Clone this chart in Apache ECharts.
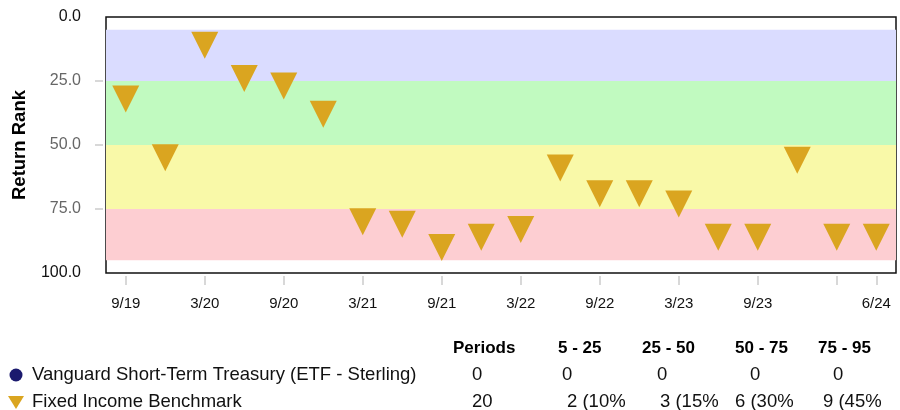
<!DOCTYPE html>
<html>
<head>
<meta charset="utf-8">
<script src="https://cdn.jsdelivr.net/npm/echarts@6/dist/echarts.min.js"></script>
<style>
  html, body { margin: 0; padding: 0; background: #fff; }
  #chart { width: 900px; height: 410px; }
</style>
</head>
<body>
<div id="chart"></div>
<script>
// quarter ends, 9/19 .. 6/24
const periods = ['9/19', '12/19', '3/20', '6/20', '9/20', '12/20', '3/21', '6/21', '9/21', '12/21',
  '3/22', '6/22', '9/22', '12/22', '3/23', '6/23', '9/23', '12/23', '3/24', '6/24'];
const benchmarkRank = [32, 55, 11, 24, 27, 38, 80, 81, 90, 86, 83, 59, 69, 69, 73, 86, 86, 56, 86, 86];
const fundRank = []; // no ranks for the fund

const bandEdges = [5, 25, 50, 75, 95];
const bandColors = ['#dadcff', '#c1fac0', '#f9f9a8', '#fdced2'];

const fundName = 'Vanguard Short-Term Treasury (ETF - Sterling)';
const benchmarkName = 'Fixed Income Benchmark';
const tableHeaders = ['Periods', '5 - 25', '25 - 50', '50 - 75', '75 - 95'];
const fundRow = ['0', '0', '0', '0', '0'];
const benchmarkRow = ['20', '2 (10%', '3 (15%', '6 (30%', '9 (45%'];

const GOLD = '#daa520';
const NAVY = '#1b1a6e';
const FONT = '"Liberation Sans", Arial, sans-serif';

const chart = echarts.init(document.getElementById('chart'), null, { renderer: 'canvas' });

const bands = [];
for (let i = 0; i < bandColors.length; i++) {
  bands.push([
    { yAxis: bandEdges[i], itemStyle: { color: bandColors[i], opacity: 1 } },
    { yAxis: bandEdges[i + 1] },
  ]);
}

// table below the chart
const headerX = [453, 558, 642, 735, 818];
const fundX = [472, 562, 657, 750, 833];
const benchX = [472, 567, 660, 735, 823];
const BODY = '18.5px ' + FONT;
const graphics = [];
tableHeaders.forEach((t, i) => graphics.push({
  type: 'text', x: headerX[i], y: 348,
  style: { text: t, fill: '#000', font: 'bold 17px ' + FONT, verticalAlign: 'middle' },
}));
fundRow.forEach((t, i) => graphics.push({
  type: 'text', x: fundX[i], y: 375,
  style: { text: t, fill: '#111', font: BODY, verticalAlign: 'middle' },
}));
benchmarkRow.forEach((t, i) => graphics.push({
  type: 'text', x: benchX[i], y: 402,
  style: { text: t, fill: '#111', font: BODY, verticalAlign: 'middle' },
}));
graphics.push(
  { type: 'circle', shape: { cx: 16, cy: 375, r: 6.5 }, style: { fill: NAVY } },
  { type: 'text', x: 32, y: 375, style: { text: fundName, fill: '#111', font: BODY, verticalAlign: 'middle' } },
  { type: 'polygon', shape: { points: [[8, 396], [24, 396], [16, 409]] }, style: { fill: GOLD } },
  { type: 'text', x: 32, y: 402, style: { text: benchmarkName, fill: '#111', font: BODY, verticalAlign: 'middle' } }
);

const option = {
  animation: false,
  grid: {
    left: 106, right: 4, top: 17, bottom: 137,
    outerBoundsMode: 'none',
    containLabel: false,
    show: true, borderColor: '#111', borderWidth: 1.5, backgroundColor: 'transparent',
  },
  xAxis: {
    type: 'category',
    data: periods,
    position: 'bottom',
    boundaryGap: true,
    offset: 3,
    axisLine: { show: false, onZero: false },
    axisTick: {
      show: true,
      alignWithLabel: true,
      length: 9,
      lineStyle: { color: '#cccccc', width: 1.5 },
      interval: (i) => i % 2 === 0 || i === periods.length - 1,
    },
    axisLabel: {
      margin: 20,
      color: '#111',
      fontSize: 15,
      fontFamily: FONT,
      interval: (i) => (i % 2 === 0 && i < periods.length - 2) || i === periods.length - 1,
    },
    splitLine: { show: false },
  },
  yAxis: {
    type: 'value',
    inverse: true,
    min: 0,
    max: 100,
    interval: 25,
    offset: 3,
    name: 'Return Rank',
    nameLocation: 'middle',
    nameGap: 74,
    nameTextStyle: { color: '#000', fontWeight: 'bold', fontSize: 18.5, fontFamily: FONT },
    axisLine: { show: false, onZero: false },
    axisTick: {
      show: true, length: 8, customValues: [25, 50, 75],
      lineStyle: { color: '#cccccc', width: 1.5 },
    },
    axisLabel: {
      margin: 22,
      fontSize: 16,
      fontFamily: FONT,
      formatter: (v) => (v === 0 || v === 100 ? '{d|' + v.toFixed(1) + '}' : '{g|' + v.toFixed(1) + '}'),
      rich: {
        d: { color: '#111', fontSize: 16, fontFamily: FONT },
        g: { color: '#666', fontSize: 16, fontFamily: FONT },
      },
    },
    splitLine: { show: false },
  },
  series: [
    {
      name: benchmarkName,
      type: 'scatter',
      data: benchmarkRank,
      symbol: 'triangle',
      symbolRotate: 180,
      symbolSize: [27, 27],
      itemStyle: { color: GOLD, opacity: 1 },
      z: 3,
      markArea: { silent: true, data: bands, z: 1 },
    },
    {
      name: fundName,
      type: 'scatter',
      data: fundRank,
      symbol: 'circle',
      symbolSize: 13,
      itemStyle: { color: NAVY, opacity: 1 },
    },
  ],
  graphic: graphics,
};

chart.setOption(option);
</script>
</body>
</html>
